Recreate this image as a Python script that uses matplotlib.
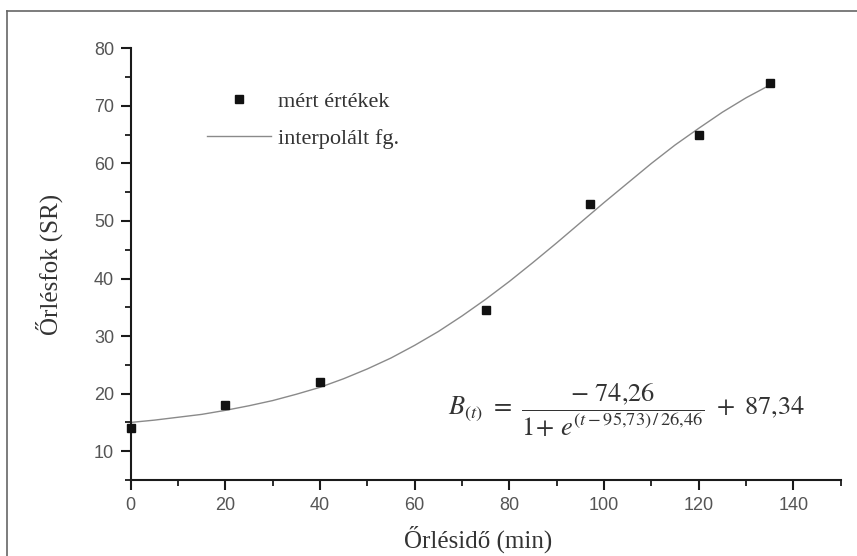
import matplotlib
matplotlib.use("Agg")
import matplotlib.pyplot as plt
from matplotlib.ticker import MultipleLocator
from matplotlib.lines import Line2D

t_meas = [0, 20, 40, 75, 97, 120, 135]
sr_meas = [14, 18, 22, 34.5, 53, 65, 74]

# fitted curve, every 5 min
t_fit = [0, 5, 10, 15, 20, 25, 30, 35, 40, 45, 50, 55, 60, 65,
         70, 75, 80, 85, 90, 95, 100, 105, 110, 115, 120, 125, 130, 135]
sr_fit = [15.0, 15.4, 15.9, 16.4, 17.1, 17.9, 18.8, 19.9, 21.1, 22.6,
          24.3, 26.2, 28.4, 30.8, 33.5, 36.4, 39.5, 42.8, 46.2, 49.7,
          53.2, 56.6, 60.0, 63.2, 66.1, 68.9, 71.4, 73.6]

x_label = "Őrlésidő (min)"
y_label = "Őrlésfok (SR)"
legend_labels = ["mért értékek", "interpolált fg."]
formula = r"$B_{(t)}\ =\ \dfrac{-\ 74{,}26}{1\!+\,e^{(t-95{,}73)\,/\,26{,}46}}\ +\ 87{,}34$"

plt.rcParams['mathtext.fontset'] = 'stix'

fig = plt.figure(figsize=(8.57, 5.56), dpi=100)
ax = fig.add_axes([0.1525, 0.1367, 0.8285, 0.7764])

line, = ax.plot(t_fit, sr_fit, color='#8a8a8a', lw=1.0, label=legend_labels[1])
pts, = ax.plot(t_meas, sr_meas, 's', color='#111111', ms=6, label=legend_labels[0],
               clip_on=False, zorder=3)

ax.set_xlim(0, 150)
ax.set_ylim(5, 80)
ax.xaxis.set_major_locator(MultipleLocator(20))
ax.xaxis.set_minor_locator(MultipleLocator(10))
ax.yaxis.set_minor_locator(MultipleLocator(5))
ax.set_yticks([10, 20, 30, 40, 50, 60, 70, 80])

for s in ['top', 'right']:
    ax.spines[s].set_visible(False)
for s in ['left', 'bottom']:
    ax.spines[s].set_linewidth(1.5)
    ax.spines[s].set_color('#1a1a1a')

ax.tick_params(which='major', direction='out', length=7, width=1.5, color='#1a1a1a',
               labelsize=13, labelcolor='#555555', pad=5)
ax.tick_params(which='minor', direction='out', length=4, width=1.3, color='#1a1a1a')
for lab in ax.get_xticklabels() + ax.get_yticklabels():
    lab.set_fontfamily('Liberation Sans')

ax.set_xlabel(x_label, family='Liberation Serif', fontsize=18, color='#333333', labelpad=8)
ax.xaxis.set_label_coords(0.49, -0.105)
ax.set_ylabel(y_label, family='Liberation Serif', fontsize=18, color='#333333', labelpad=22)

ax.legend(handles=[pts, line], loc='upper left', bbox_to_anchor=(0.1075, 0.9),
          frameon=False, prop={'family': 'Liberation Serif', 'size': 16},
          handlelength=2.9, handletextpad=0.3, labelspacing=0.72, borderpad=0,
          borderaxespad=0, labelcolor='#333333')

fig.text(448 / 857, 1 - 410 / 556, formula, fontsize=19, color='#333333',
         ha='left', va='center')

# frame of the cropped figure (top and left only)
fig.add_artist(Line2D([7 / 857, 7 / 857], [0, 1 - 11 / 556], color='#666666', lw=1.2))
fig.add_artist(Line2D([7 / 857, 1], [1 - 11 / 556, 1 - 11 / 556], color='#666666', lw=1.2))

fig.savefig("out.png", dpi=100)
